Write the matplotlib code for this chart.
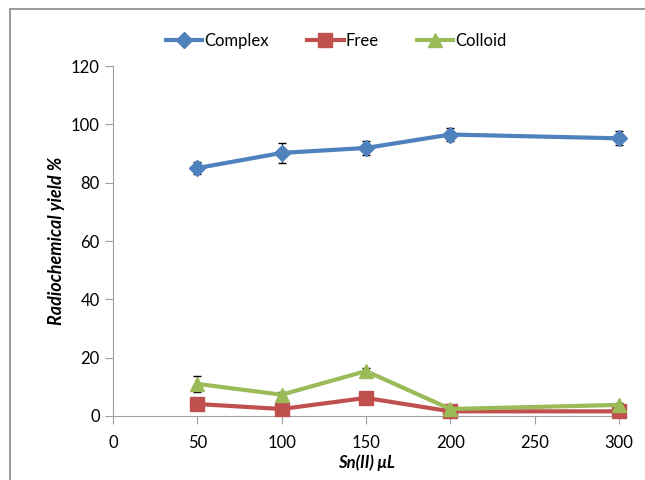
import matplotlib
matplotlib.use("Agg")
import matplotlib.pyplot as plt
from matplotlib.patches import Rectangle
from matplotlib.lines import Line2D

plt.rcParams['font.family'] = ['Lato', 'DejaVu Sans']

x = [50, 100, 150, 200, 300]
complex_y = [85.0, 90.2, 91.9, 96.5, 95.2]
complex_err = [2.0, 3.4, 2.5, 2.3, 2.4]
free_y = [4.1, 2.4, 6.2, 1.6, 1.6]
colloid_y = [11.0, 7.3, 15.4, 2.4, 3.8]
colloid_err = [2.7, 0.8, 1.0, 0.3, 0.5]

xticks = [0, 50, 100, 150, 200, 250, 300]
yticks = [0, 20, 40, 60, 80, 100, 120]
series_names = ['Complex', 'Free', 'Colloid']

fig = plt.figure(figsize=(6.45, 4.8), dpi=100)
fig.patches.append(Rectangle((10/645, -0.1), 1.2, (480-9)/480 + 0.1, transform=fig.transFigure,
                             fill=False, edgecolor='#888888', linewidth=1.2))
ax = fig.add_axes([113/645, 64/480, (619-113)/645, (416-66)/480])

blue = '#4F81BD'; red = '#C0504D'; green = '#9BBB59'
ax.errorbar(x, complex_y, yerr=complex_err, color=blue, lw=3, marker='D', ms=8,
            ecolor='black', elinewidth=0.8, capsize=3, clip_on=False, zorder=3)
ax.plot(x, free_y, color=red, lw=3, marker='s', ms=10, clip_on=False, zorder=3)
ax.errorbar(x, colloid_y, yerr=colloid_err, color=green, lw=3, marker='^', ms=10,
            ecolor='black', elinewidth=0.8, capsize=3, clip_on=False, zorder=4)

ax.set_xlim(0, 300)
ax.set_ylim(0, 120)
ax.set_xticks(xticks)
ax.set_yticks(yticks)
for s in ['top', 'right']:
    ax.spines[s].set_visible(False)
for s in ['left', 'bottom']:
    ax.spines[s].set_color('#A0A0A0')
ax.tick_params(axis='both', colors='#A0A0A0', labelcolor='black', labelsize=12, length=6)
ax.tick_params(axis='x', pad=8)

ax.set_ylabel('Radiochemical yield %', fontsize=13, fontweight='bold', fontstyle='italic', labelpad=4)
ax.set_xlabel('Sn(II) μL', fontsize=12, fontweight='bold', fontstyle='italic', labelpad=2)

handles = [Line2D([], [], color=blue, lw=3, marker='D', ms=8),
           Line2D([], [], color=red, lw=3, marker='s', ms=10),
           Line2D([], [], color=green, lw=3, marker='^', ms=10)]
ax.legend(handles, series_names, loc='center', bbox_to_anchor=(336/645, (480-41)/480),
          bbox_transform=fig.transFigure, ncol=3, frameon=False, fontsize=12,
          handlelength=2.2, columnspacing=2.3, handletextpad=0.1)

fig.savefig('out.png', dpi=100)
